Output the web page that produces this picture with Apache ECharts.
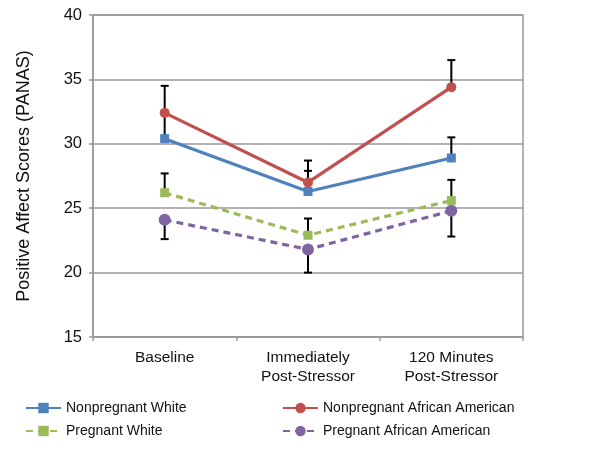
<!DOCTYPE html>
<html><head><meta charset="utf-8">
<script src="https://cdn.jsdelivr.net/npm/echarts@6/dist/echarts.min.js"></script>
<style>html,body{margin:0;padding:0;background:#fff}#c{width:600px;height:453px}</style>
</head><body><div id="c"></div>
<script>
const categories = ['Baseline', 'Immediately\nPost-Stressor', '120 Minutes\nPost-Stressor'];
const yTicks = [15, 20, 25, 30, 35, 40];
const seriesNames = ['Nonpregnant White', 'Nonpregnant African American', 'Pregnant White', 'Pregnant African American'];
const nonpregWhite = [30.4, 26.3, 28.9];
const nonpregAA = [32.4, 27.0, 34.4];
const pregWhite = [26.2, 22.9, 25.6];
const pregAA = [24.1, 21.8, 24.8];
// error bar end values (one-sided)
const nonpregWhiteErr = [32.4, 27.9, 30.5];
const nonpregAAErr = [34.5, 28.7, 36.5];
const pregWhiteErr = [27.7, 24.2, 27.2];
const pregAAErr = [22.6, 20.0, 22.8];

const colors = ['#4f81bd', '#c0504d', '#9bbb59', '#8064a2'];
const font = 'Liberation Sans, Arial, sans-serif';

const errData = [];
[[nonpregWhite, nonpregWhiteErr], [nonpregAA, nonpregAAErr], [pregWhite, pregWhiteErr], [pregAA, pregAAErr]].forEach(([v, e]) => {
  v.forEach((val, i) => errData.push([i, val, e[i]]));
});

const chart = echarts.init(document.getElementById('c'), null, {renderer: 'canvas'});
function lineSeries(name, data, color, symbol, size, dashed) {
  return {
    name, type: 'line', data, symbol, symbolSize: size,
    itemStyle: {color},
    lineStyle: {color, width: 3.2, type: dashed ? [7, 5] : 'solid'},
    z: 3
  };
}
chart.setOption({
  animation: false,
  textStyle: {fontFamily: font},
  grid: {left: 93, right: 77, top: 15, bottom: 116, show: true, borderColor: '#999', borderWidth: 1.5},
  legend: [
    {orient: 'vertical', left: 20, top: 396, itemGap: 9, itemWidth: 35, itemHeight: 13,
     textStyle: {fontSize: 14, color: '#111', fontFamily: font}, data: [seriesNames[0], seriesNames[2]]},
    {orient: 'vertical', left: 277, top: 396, itemGap: 9, itemWidth: 35, itemHeight: 13,
     textStyle: {fontSize: 14, color: '#111', fontFamily: font}, data: [seriesNames[1], seriesNames[3]]}
  ],
  xAxis: {
    type: 'category', data: categories, boundaryGap: true,
    axisLine: {lineStyle: {color: '#999', width: 1.5}},
    axisTick: {show: true, length: 4, lineStyle: {color: '#999', width: 1.5}},
    axisLabel: {fontSize: 15.5, color: '#111', lineHeight: 19, margin: 11, fontFamily: font}
  },
  yAxis: {
    type: 'value', min: yTicks[0], max: yTicks[yTicks.length - 1], interval: 5,
    name: 'Positive Affect Scores (PANAS)', nameLocation: 'middle', nameGap: 60,
    nameTextStyle: {fontSize: 18, color: '#111', fontFamily: font},
    axisLine: {show: true, lineStyle: {color: '#999', width: 1.5}},
    axisTick: {show: true, length: 4, lineStyle: {color: '#999', width: 1.5}},
    axisLabel: {fontSize: 16.5, color: '#111', margin: 11, fontFamily: font},
    splitLine: {lineStyle: {color: '#999', width: 1.5}}
  },
  series: [
    {
      type: 'custom', name: 'err', data: errData, z: 2, silent: true,
      renderItem: function (params, api) {
        const p0 = api.coord([api.value(0), api.value(1)]);
        const p1 = api.coord([api.value(0), api.value(2)]);
        const hw = 4;
        return {type: 'group', children: [
          {type: 'line', shape: {x1: p0[0], y1: p0[1], x2: p1[0], y2: p1[1]}, style: {stroke: '#000', lineWidth: 2}},
          {type: 'line', shape: {x1: p1[0] - hw, y1: p1[1], x2: p1[0] + hw, y2: p1[1]}, style: {stroke: '#000', lineWidth: 2}}
        ]};
      }
    },
    lineSeries(seriesNames[0], nonpregWhite, colors[0], 'rect', 9, false),
    lineSeries(seriesNames[1], nonpregAA, colors[1], 'circle', 10, false),
    lineSeries(seriesNames[2], pregWhite, colors[2], 'rect', 9, true),
    lineSeries(seriesNames[3], pregAA, colors[3], 'circle', 12, true)
  ]
});
</script></body></html>
